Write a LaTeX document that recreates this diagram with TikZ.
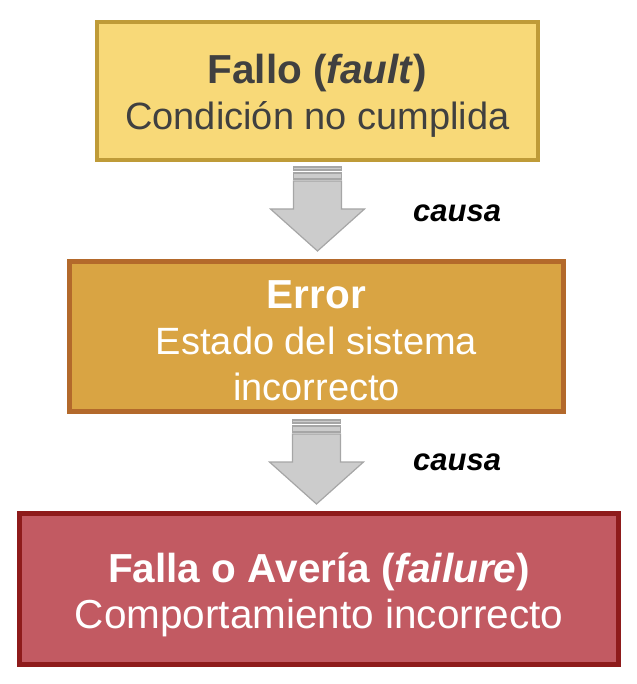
\documentclass[tikz,border=0pt]{standalone}
\usepackage{fontspec}
\setmainfont{Liberation Sans}
\usepackage{tikz}
\usetikzlibrary{positioning}

\definecolor{faultfill}{HTML}{F8D978}
\definecolor{faultline}{HTML}{BF9B38}
\definecolor{errorfill}{HTML}{D9A443}
\definecolor{errorline}{HTML}{B3692B}
\definecolor{failfill}{HTML}{C25A62}
\definecolor{failline}{HTML}{8E1B1B}
\definecolor{arrowfill}{HTML}{CCCCCC}
\definecolor{arrowline}{HTML}{A6A6A6}
\definecolor{darktext}{HTML}{404040}

\newcommand{\headline}[1]{{\fontsize{40.5}{46}\selectfont\bfseries #1}}

\begin{document}
\begin{tikzpicture}[
    x=1pt, y=-1pt,
    box/.style={
        rectangle,
        align=center,
        inner sep=0pt,
        font=\fontsize{38}{46}\selectfont
    },
    causelabel/.style={font=\fontsize{31}{36}\selectfont\bfseries\itshape, anchor=base west, inner sep=0pt},
    stripedarrow/.pic={
        \filldraw[fill=arrowfill, draw=arrowline, line width=1.2pt]
            (-24,0) rectangle (24,3)
            (-24,6) rectangle (24,12);
        \filldraw[fill=arrowfill, draw=arrowline, line width=1.2pt]
            (-24,14) -- (24,14) -- (24,42) -- (47,42) -- (0,84)
            -- (-47,42) -- (-24,42) -- cycle;
    }
]
\useasboundingbox (0,0) rectangle (636,684);

% las tres cajas
\node[box, fill=faultfill, draw=faultline, line width=4pt,
      minimum width=441pt, minimum height=138pt, text=darktext] (fallo) at (317.5,91)
    {};
\node[box, text=darktext] (fallotxt) at (317.5,95.5)
    {\headline{Fallo (\textit{fault})}\\ Condición no cumplida};
\node[box, fill=errorfill, draw=errorline, line width=5pt,
      minimum width=494pt, minimum height=150pt, text=white] (error) at (316.5,336.5)
    {};
\node[box, text=white] (errortxt) at (316.5,340.5)
    {\headline{Error}\\ Estado del sistema\\ incorrecto};
\node[box, fill=failfill, draw=failline, line width=5pt,
      minimum width=599pt, minimum height=151pt, text=white] (falla) at (319,589)
    {};
\node[box, text=white, font=\fontsize{40.5}{46}\selectfont] (fallatxt) at (319,595)
    {\headline{Falla o Avería (\textit{failure})}\\ Comportamiento incorrecto};

% flechas entre cajas
\coordinate (a1) at ([yshift=-5pt]fallo.south);
\coordinate (a2) at ([yshift=-6pt]error.south);
\pic at (a1) {stripedarrow};
\pic at (a2) {stripedarrow};

\node[causelabel] (causa1) at (413,222) {causa};
\node[causelabel] (causa2) at (413,470) {causa};

\end{tikzpicture}
\end{document}
